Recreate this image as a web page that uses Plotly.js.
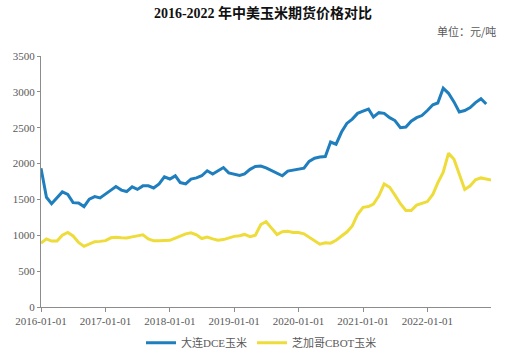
<!DOCTYPE html>
<html>
<head>
<meta charset="utf-8">
<script src="https://cdn.plot.ly/plotly-3.0.1.min.js"></script>
<style>html,body{margin:0;padding:0;background:#fff;}#chart{width:526px;height:357px;}</style>
</head>
<body>
<div id="chart"></div>
<script>
// Monthly observations, 2016-01 .. 2023-01
const startYear = 2016;
const dceName = "大连DCE玉米";
const cbotName = "芝加哥CBOT玉米";
const dceValues = [
  1936,1530,1440,1530,1605,1570,1455,1450,1400,1504,1540,1522,
  1570,1630,1680,1630,1610,1675,1640,1689,1689,1660,1717,1815,
  1785,1829,1735,1717,1783,1800,1830,1900,1855,1900,1945,1870,
  1850,1835,1855,1920,1960,1965,1940,1900,1860,1830,1895,1910,
  1925,1935,2030,2075,2092,2098,2300,2270,2440,2560,2620,2700,
  2730,2760,2650,2710,2700,2640,2600,2500,2510,2590,2640,2670,
  2740,2820,2845,3050,2980,2860,2720,2740,2780,2850,2905,2830
];
const cbotValues = [
  890,950,920,920,1000,1040,990,900,845,880,910,915,
  925,965,972,965,962,978,993,1007,950,923,923,923,
  930,960,990,1020,1035,1007,955,975,950,930,940,965,
  985,993,1012,980,1000,1150,1190,1100,1010,1050,1055,1039,
  1039,1020,975,930,875,895,890,930,990,1045,1130,1290,
  1390,1400,1435,1550,1717,1670,1560,1440,1345,1345,1420,1440,
  1470,1570,1730,1880,2145,2060,1850,1640,1690,1773,1800,1780,
  1770
];
function monthDates(n){
  const out=[];
  for(let i=0;i<n;i++){
    const y=startYear+Math.floor(i/12), m=(i%12)+1;
    out.push(y+"-"+(m<10?"0":"")+m+"-01");
  }
  return out;
}
const dceDates = monthDates(dceValues.length);
const cbotDates = monthDates(cbotValues.length);

const serif = "Liberation Serif, Times New Roman, Noto Sans CJK SC, serif";
const data = [
  {x: dceDates, y: dceValues, name: dceName, type: "scatter", mode: "lines",
   line: {color: "#1f7ebd", width: 3}, cliponaxis: false},
  {x: cbotDates, y: cbotValues, name: cbotName, type: "scatter", mode: "lines",
   line: {color: "#eedc3a", width: 3}, cliponaxis: false}
];
const layout = {
  width: 526, height: 357,
  margin: {l: 41, r: 35, t: 56, b: 50},
  paper_bgcolor: "#fff", plot_bgcolor: "#fff",
  title: {text: "<b>2016-2022 年中美玉米期货价格对比</b>", x: 0.5, xanchor: "center",
          y: 0.962, yanchor: "middle",
          font: {family: "Liberation Serif, Noto Sans CJK SC, serif", size: 14, color: "#111"}},
  xaxis: {
    type: "date", range: ["2016-01-01", "2022-12-28"],
    tickformat: "%Y-%m-%d", dtick: "M12", tick0: "2016-01-01",
    showgrid: false, zeroline: false,
    showline: true, linecolor: "#8c8c8c", linewidth: 1,
    ticks: "outside", ticklen: 4, tickcolor: "#8c8c8c",
    tickfont: {family: serif, size: 11, color: "#595959"}
  },
  yaxis: {
    range: [0, 3500], dtick: 500, tick0: 0,
    showgrid: false, zeroline: false,
    showline: true, linecolor: "#8c8c8c", linewidth: 1,
    ticks: "outside", ticklen: 3, tickcolor: "#8c8c8c",
    tickfont: {family: serif, size: 11, color: "#595959"}
  },
  showlegend: true,
  legend: {orientation: "h", x: 0.49, xanchor: "center", yref: "container", y: 0.04, yanchor: "middle",
           font: {family: "Liberation Serif, Noto Sans CJK SC, serif", size: 11, color: "#595959"},
           itemwidth: 30, tracegroupgap: 0},
  annotations: [
    {text: "单位：元/吨", xref: "paper", yref: "paper", x: 1.015, y: 1.1,
     xanchor: "right", yanchor: "middle", showarrow: false,
     font: {family: "Noto Sans CJK SC, serif", size: 11, color: "#595959"}}
  ]
};
Plotly.newPlot("chart", data, layout, {displayModeBar: false, staticPlot: true});
</script>
</body>
</html>
